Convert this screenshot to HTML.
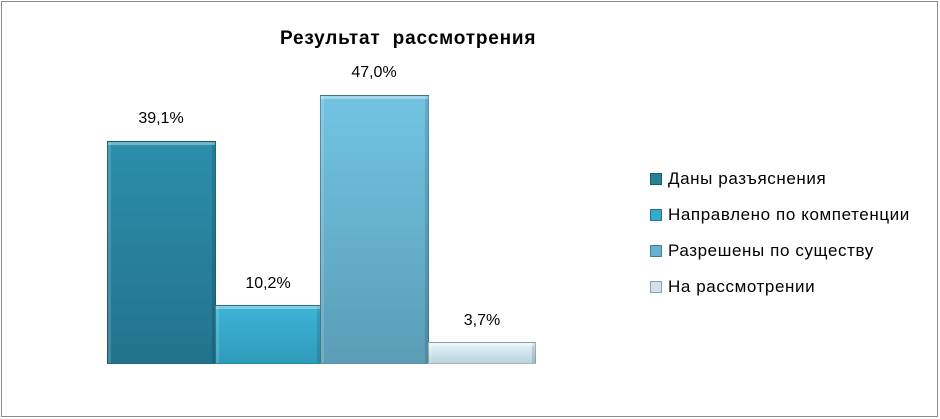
<!DOCTYPE html>
<html><head><meta charset="utf-8"><style>
body{margin:0;width:940px;height:419px;background:#fff;overflow:hidden;font-family:"Liberation Sans",sans-serif}
.frame{position:absolute;left:1px;top:1px;width:935px;height:414px;border:1px solid #8c8c8c}
.t{position:absolute;color:#000}
.bar{position:absolute;box-sizing:border-box;border:1px solid rgba(0,0,0,0.25);box-shadow:inset 0 3px 0 rgba(255,255,255,0.35),inset 3px 0 0 rgba(255,255,255,0.15),inset -3px 0 0 rgba(0,0,0,0.12)}
.lab{position:absolute;font-size:16px;width:108px;text-align:center}
.lg{position:absolute;left:650px;font-size:17px;letter-spacing:0.6px}
.lg i{display:inline-block;width:10px;height:10px;margin-right:6px;vertical-align:-1px;border:1px solid rgba(0,0,0,0.3)}
</style></head><body>
<div class="frame"></div>
<div class="t" style="left:280px;top:28px;font-size:19px;font-weight:bold;letter-spacing:0.8px">Результат&nbsp; рассмотрения</div>
<div class="bar" style="left:107px;top:141px;width:109px;height:223px;background:linear-gradient(#2b8eab,#22738c)"></div>
<div class="bar" style="left:215px;top:305px;width:106px;height:59px;background:linear-gradient(#3db4d6,#2f9bbb)"></div>
<div class="bar" style="left:320px;top:95px;width:109px;height:269px;background:linear-gradient(#72c4e2,#5a9db6)"></div>
<div class="bar" style="left:428px;top:342px;width:108px;height:22px;background:linear-gradient(#e6f3f8,#b9d3dd)"></div>
<div class="lab" style="left:107px;top:110px">39,1%</div>
<div class="lab" style="left:214px;top:275px">10,2%</div>
<div class="lab" style="left:320px;top:64px">47,0%</div>
<div class="lab" style="left:428px;top:312px">3,7%</div>
<div class="lg" style="top:169px"><i style="background:#277f99"></i>Даны разъяснения</div>
<div class="lg" style="top:205px"><i style="background:#36a9cb"></i>Направлено по компетенции</div>
<div class="lg" style="top:241px"><i style="background:#67b3cf"></i>Разрешены по существу</div>
<div class="lg" style="top:277px"><i style="background:#cfe3ea"></i>На рассмотрении</div>
</body></html>
